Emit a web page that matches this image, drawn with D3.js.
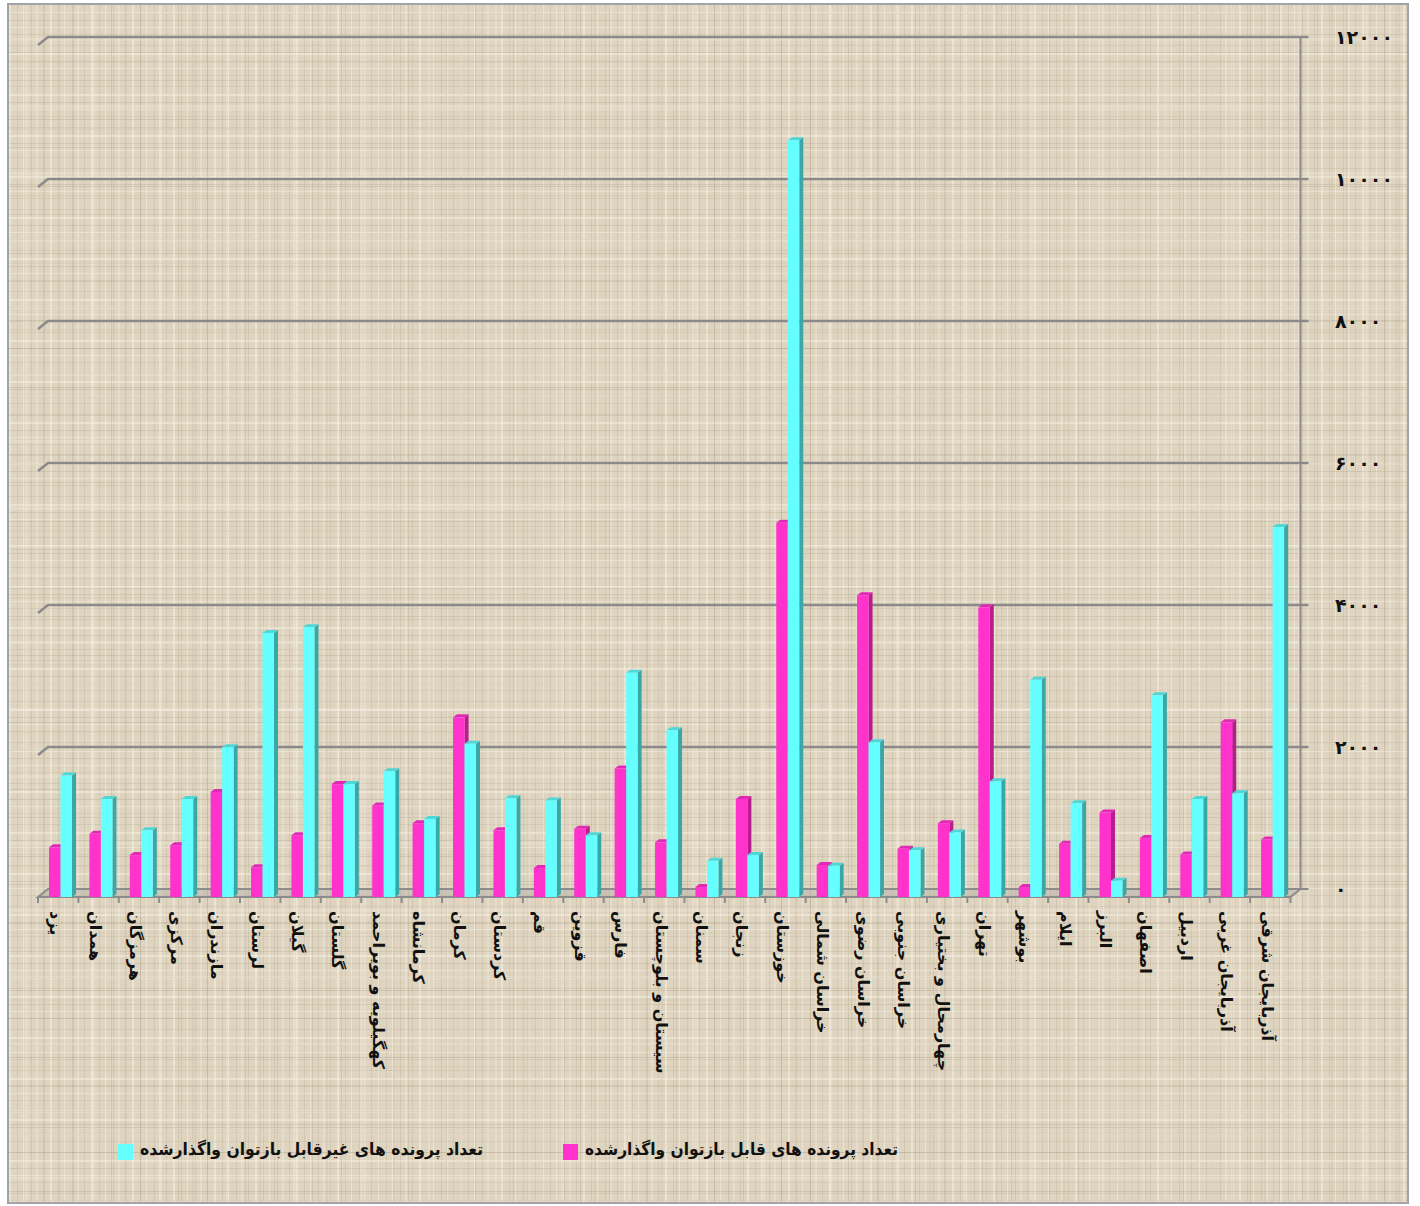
<!DOCTYPE html>
<html>
<head>
<meta charset="utf-8">
<script src="https://cdn.jsdelivr.net/npm/d3@7"></script>
<style>
  body { margin: 0; background: #fff; }
  svg { display: block; font-family: "DejaVu Sans", sans-serif; }
</style>
</head>
<body>
<div id="chart"></div>
<script>
(function() {

    // provinces, left to right
    const categories = [
        "یزد", "همدان", "هرمزگان", "مرکزی", "مازندران", "لرستان", "گیلان", "گلستان",
        "کهگیلویه و بویراحمد", "کرمانشاه", "کرمان", "کردستان", "قم", "قزوین", "فارس",
        "سیستان و بلوچستان", "سمنان", "زنجان", "خوزستان", "خراسان شمالی", "خراسان رضوی",
        "خراسان جنوبی", "چهارمحال و بختیاری", "تهران", "بوشهر", "ایلام", "البرز",
        "اصفهان", "اردبیل", "آذربایجان غربی", "آذربایجان شرقی"
    ];

    // تعداد پرونده های قابل بازتوان واگذارشده
    const reusable = [
        700, 890, 590, 730, 1480, 420, 870, 1590, 1290, 1040, 2530, 940, 410, 960, 1810,
        770, 140, 1380, 5270, 450, 4250, 680, 1040, 4080, 140, 750, 1190, 830, 600, 2460, 810
    ];

    // تعداد پرونده های غیرقابل بازتوان واگذارشده
    const nonReusable = [
        1710, 1380, 940, 1380, 2110, 3720, 3800, 1590, 1770, 1100, 2160, 1390, 1360, 870, 3160,
        2350, 510, 590, 10660, 440, 2180, 660, 910, 1630, 3060, 1320, 230, 2840, 1380, 1460, 5210
    ];

    const yTicks = [0, 2000, 4000, 6000, 8000, 10000, 12000];

    const seriesNames = [
        "تعداد پرونده های قابل بازتوان واگذارشده",
        "تعداد پرونده های غیرقابل بازتوان واگذارشده"
    ];

    const W = 1420, H = 1206;
    const depth = {x: 10, y: -8};     // back wall offset
    const barDepth = {x: 4, y: -3};   // column thickness

    const colors = {
        m: {front: "#ff33cc", side: "#b81c8e", top: "#e02ab5"},
        c: {front: "#66ffff", side: "#3aa6a6", top: "#4fd6d6"}
    };

    const persian = s => String(s).replace(/[0-9]/g, d => "۰۱۲۳۴۵۶۷۸۹"[+d]);

    const svg = d3.select("#chart").append("svg")
        .attr("width", W)
        .attr("height", H);

    // linen texture
    const defs = svg.append("defs");
    function linen(id, size, lines, base) {
        const p = defs.append("pattern")
            .attr("id", id)
            .attr("patternUnits", "userSpaceOnUse")
            .attr("width", size).attr("height", size);
        if (base) p.append("rect").attr("width", size).attr("height", size).attr("fill", base);
        lines.forEach(([pos, w, col, op, vert]) => {
            p.append("rect")
                .attr("x", vert ? pos : 0).attr("y", vert ? 0 : pos)
                .attr("width", vert ? w : size).attr("height", vert ? size : w)
                .attr("fill", col).attr("opacity", op);
        });
    }
    linen("linenA", 41, [
        [2, 1, "#a89a80", 0.22, true], [9, 2, "#f6f0e4", 0.55, true], [17, 1, "#9c8e74", 0.18, true],
        [23, 1, "#f8f3ea", 0.5, true], [31, 1, "#ab9d84", 0.25, true], [36, 2, "#f3ede0", 0.4, true],
        [4, 1, "#a4967c", 0.2, false], [12, 2, "#f7f1e6", 0.5, false], [20, 1, "#9e9077", 0.22, false],
        [27, 1, "#f5efe3", 0.5, false], [34, 1, "#a99b82", 0.2, false]
    ], "#ded4bf");
    linen("linenB", 67, [
        [6, 1, "#8f8168", 0.18, true], [25, 3, "#f2ebdd", 0.35, true], [44, 1, "#958770", 0.2, true],
        [58, 2, "#cdbfa6", 0.3, true], [13, 1, "#918369", 0.18, false], [38, 3, "#f4eee1", 0.3, false],
        [52, 1, "#8d7f66", 0.2, false], [61, 2, "#cfc1a8", 0.25, false]
    ], null);

    svg.append("rect")
        .attr("x", 8).attr("y", 4).attr("width", 1400).attr("height", 1199)
        .attr("fill", "url(#linenA)");
    svg.append("rect")
        .attr("x", 8).attr("y", 4).attr("width", 1400).attr("height", 1199)
        .attr("fill", "url(#linenB)")
        .attr("stroke", "#a2a2aa").attr("stroke-width", 2);

    // scales (front plane)
    const x = d3.scaleBand()
        .domain(categories)
        .range([38, 1290.5]);

    const xSeries = d3.scaleBand()
        .domain(["m", "c"])
        .range([11, 34]);

    const y = d3.scaleLinear()
        .domain([0, 12000])
        .range([897, 45]);

    const x0 = x.range()[0], x1 = x.range()[1];

    // floor
    svg.append("path")
        .attr("d", `M${x0},${y(0)} L${x0 + depth.x},${y(0) + depth.y} L${x1 + depth.x},${y(0) + depth.y} L${x1},${y(0)} Z`)
        .attr("fill", "#b4b0a8").attr("fill-opacity", 0.45)
        .attr("stroke", "#8c8c8c").attr("stroke-width", 2);

    // gridlines on the back wall
    const grid = svg.append("g").attr("class", "grid");
    grid.selectAll("path")
        .data(yTicks.filter(d => d > 0))
        .join("path")
        .attr("d", d => `M${x0},${y(d)} L${x0 + depth.x},${y(d) + depth.y} L${x1 + depth.x + 8},${y(d) + depth.y}`)
        .attr("fill", "none")
        .attr("stroke", "#8a8a8a")
        .attr("stroke-width", 2.5);

    // right wall edge
    svg.append("line")
        .attr("x1", x1 + depth.x).attr("x2", x1 + depth.x)
        .attr("y1", y(12000) + depth.y).attr("y2", y(0) + depth.y)
        .attr("stroke", "#8a8a8a").attr("stroke-width", 2);
    svg.append("line")
        .attr("x1", x1 + depth.x).attr("x2", x1 + depth.x + 8)
        .attr("y1", y(0) + depth.y).attr("y2", y(0) + depth.y)
        .attr("stroke", "#8a8a8a").attr("stroke-width", 2);

    // x ticks
    const ticks = categories.map(c => x(c)).concat([x1]);
    svg.append("g").selectAll("line")
        .data(ticks)
        .join("line")
        .attr("x1", d => d).attr("x2", d => d)
        .attr("y1", y(0)).attr("y2", y(0) + 6)
        .attr("stroke", "#8c8c8c").attr("stroke-width", 2);

    // y labels
    svg.append("g").selectAll("text")
        .data(yTicks)
        .join("text")
        .attr("x", 1335)
        .attr("y", d => y(d) + depth.y)
        .attr("dy", "0.35em")
        .attr("font-size", 19)
        .attr("font-weight", "bold")
        .attr("fill", "#111")
        .text(d => persian(d));

    // columns
    const rows = categories.map((c, i) => ({cat: c, m: reusable[i], c: nonReusable[i]}));
    const w = xSeries.bandwidth();

    function column(g, key) {
        g.each(function(d) {
            const bx = x(d.cat) + xSeries(key);
            const top = y(d[key]), base = y(0);
            const sel = d3.select(this);
            sel.append("path")
                .attr("d", `M${bx + w},${base} L${bx + w + barDepth.x},${base + barDepth.y} L${bx + w + barDepth.x},${top + barDepth.y} L${bx + w},${top} Z`)
                .attr("fill", colors[key].side);
            sel.append("path")
                .attr("d", `M${bx},${top} L${bx + barDepth.x},${top + barDepth.y} L${bx + w + barDepth.x},${top + barDepth.y} L${bx + w},${top} Z`)
                .attr("fill", colors[key].top);
            sel.append("rect")
                .attr("x", bx).attr("y", top)
                .attr("width", w).attr("height", base - top)
                .attr("fill", colors[key].front);
        });
    }

    const bars = svg.append("g").selectAll("g")
        .data(rows)
        .join("g");
    bars.append("g").call(column, "m");
    bars.append("g").call(column, "c");

    // category labels, rotated
    svg.append("g").selectAll("text")
        .data(categories)
        .join("text")
        .attr("transform", d => `translate(${x(d) + x.bandwidth() / 2 - 3},911) rotate(90)`)
        .attr("dy", "0.35em")
        .attr("font-size", 16)
        .attr("font-weight", "bold")
        .attr("fill", "#111")
        .text(d => d);

    // legend
    const legend = [
        {name: seriesNames[0], color: colors.m.front, x: 563, len: 313},
        {name: seriesNames[1], color: colors.c.front, x: 118, len: 343}
    ];
    const lg = svg.append("g").selectAll("g")
        .data(legend)
        .join("g")
        .attr("transform", d => `translate(${d.x},1152)`);
    lg.append("rect")
        .attr("x", 0).attr("y", -8)
        .attr("width", 15).attr("height", 16)
        .attr("fill", d => d.color);
    lg.append("text")
        .attr("x", 22)
        .attr("dy", "0.2em")
        .attr("font-size", 17)
        .attr("font-weight", "bold")
        .attr("fill", "#111")
        .attr("textLength", d => d.len)
        .attr("lengthAdjust", "spacingAndGlyphs")
        .text(d => d.name);

})();
</script>
</body>
</html>
